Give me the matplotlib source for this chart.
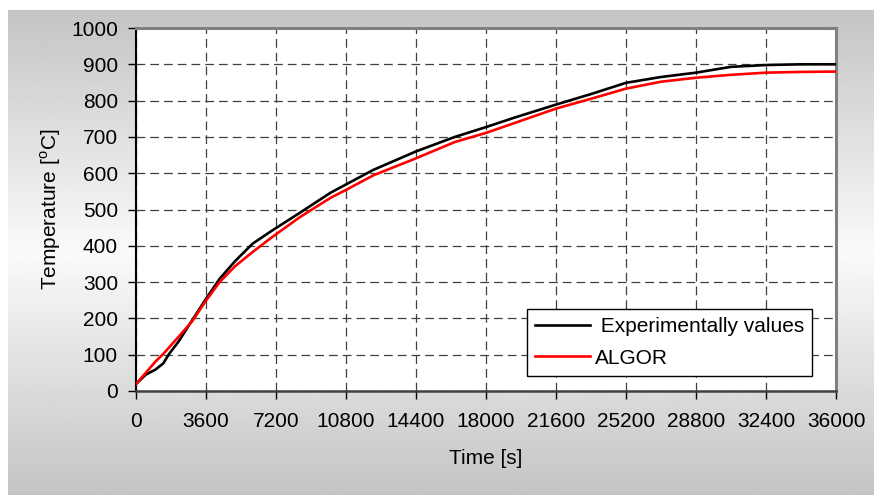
import numpy as np
import matplotlib
matplotlib.use("Agg")
import matplotlib.pyplot as plt

plt.rcParams["font.family"] = ["Liberation Sans", "DejaVu Sans"]
plt.rcParams["mathtext.fontset"] = "custom"
plt.rcParams["mathtext.rm"] = "Liberation Sans"

# ── Data ──────────────────────────────────────────────────────────────
time_s = [0, 500, 1000, 1400, 1700, 2200, 2900, 3600, 4300, 5100, 6000,
          7000, 8400, 10000, 10800, 12200, 14400, 16400, 18000, 19400,
          21600, 23400, 25200, 27000, 28800, 30600, 32400, 34200, 36000]
experimental = [19, 45, 59, 76, 102, 137, 196, 254, 309, 358, 406,
                442, 490, 546, 569, 609, 660, 700, 727, 752,
                789, 818, 849, 865, 877, 893, 898, 900, 900]
algor = [19, 50, 81, 102, 120, 150, 193, 249, 300, 344, 383,
         424, 478, 532, 554, 594, 641, 686, 711, 737,
         778, 805, 833, 852, 863, 871, 877, 879, 880]

x_ticks = list(range(0, 36001, 3600))
y_ticks = list(range(0, 1001, 100))

W, H = 874, 495
fig = plt.figure(figsize=(W / 100, H / 100), dpi=100)
fig.patch.set_facecolor("white")

# gray gradient panel behind the chart
bg = fig.add_axes([8 / W, 0, 1 - 8 / W, (H - 10) / H], zorder=-5)
yy = np.linspace(0, 1, 300)
shade = 196 + 54 * (1 - np.abs(yy - 0.5) * 2)
bg.imshow(np.repeat(shade[:, None], 2, axis=1), cmap="gray", vmin=0, vmax=255,
          aspect="auto", extent=[0, 1, 0, 1])
bg.axis("off")

ax = fig.add_axes([136 / W, (H - 391) / H, 700 / W, 363 / H])
ax.set_facecolor("white")

ax.plot(time_s, experimental, color="black", lw=1.9, label=" Experimentally values", zorder=3)
ax.plot(time_s, algor, color="#ff0000", lw=1.9, label="ALGOR", zorder=3)

ax.set_xlim(0, 36000)
ax.set_ylim(0, 1000)
ax.set_xticks(x_ticks)
ax.set_yticks(y_ticks)
ax.tick_params(axis="both", direction="out", length=6, width=1, labelsize=15, colors="black")
ax.tick_params(axis="x", pad=9)
ax.tick_params(axis="y", pad=7)

ax.grid(True, color="#404040", lw=0.9, ls=(0, (7, 4)))

for side in ("top", "right"):
    ax.spines[side].set_color("#808080")
    ax.spines[side].set_linewidth(2.2)
ax.spines["left"].set_color("black")
ax.spines["left"].set_linewidth(1.5)
ax.spines["bottom"].set_color("#404040")
ax.spines["bottom"].set_linewidth(1.8)

ax.set_xlabel("Time [s]", fontsize=15, labelpad=13)
ax.set_ylabel(r"Temperature [$^{\mathrm{o}}$C]", fontsize=15, labelpad=6)

leg = ax.legend(loc="lower left", bbox_to_anchor=((527 - 136) / 700, (391 - 376) / 363),
                fontsize=15, frameon=True, fancybox=False, framealpha=1,
                edgecolor="black", handlelength=2.6, handletextpad=0.25,
                borderpad=0.4, labelspacing=0.6, borderaxespad=0)
leg.get_frame().set_linewidth(1.0)

fig.savefig("out.png", dpi=100)
